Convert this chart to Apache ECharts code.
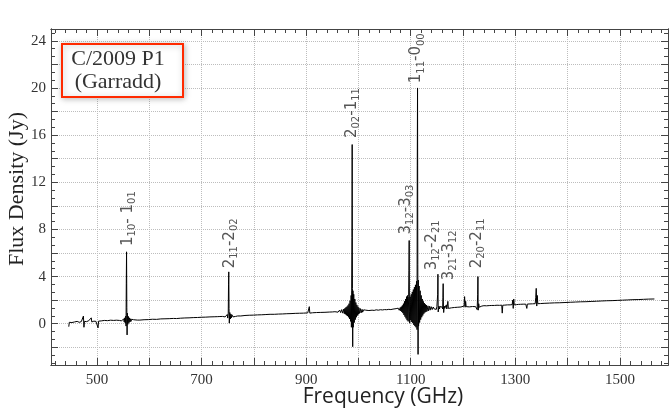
<!DOCTYPE html>
<html><head><meta charset="utf-8">
<script src="https://cdn.jsdelivr.net/npm/echarts@6/dist/echarts.min.js"></script>
<style>html,body{margin:0;padding:0;background:#fff}#c{width:670px;height:419px}</style>
</head><body><div id="c"></div>
<script>
// Spectrum samples (GHz, Jy)
const freqGHz = [
 446,447,452,457,462,466,470,473,474,475,476,480,484,487,489,490,494,498,501,502,503,508,514,520,526,532,537,
 540,543,545,547,549,550,551,552,553,554,555,555.5,556,556.5,557,557.5,558,559,560,561,562,563,564,565,566,568,570,573,577,
 582,590,598,606,614,622,630,638,646,652,653,654,660,668,676,684,692,700,708,716,724,730,735,
 740,743,745,747,748,749,750,751,751.5,752,752.5,753,754,755,756,757,758,760,762,765,769,
 775,783,791,799,807,815,823,831,839,847,855,863,871,879,887,895,903,905,906,907,912,920,928,936,944,950,
 955,958,961,964,966,968,970,972,973,974,975,976,977,978,979,980,981,982,983,984,985,986,986.5,987,987.5,988,988.5,989,989.5,990,991,992,993,994,995,996,997,998,999,1000,1001,1002,1004,1005,1007,1008,1010,1012,1014,1017,1020,
 1022,1026,1030,1034,1038,1042,1046,1050,1054,1058,1062,1066,1069,1072,1074,
 1076,1078,1080,1081,1082,1083,1084,1085,1086,1087,1088,1089,1090,1091,1092,1093,1094,1095,1096,1096.5,1097,1097.5,1098,1099,1100,1101,1102,1103,1104,1105,1106,1107,1108,1109,1110,1111,1112,1112.5,1113,1113.5,1114,1114.5,1115,1116,1117,1118,1119,1120,1121,1122,1123,1124,1125,1126,1127,1128,1129,1130,1131,1133,1134,1136,1137,1139,1141,1143,1145,1147,1149,1150,1151,1151.5,1152,1152.5,1153,1154,1155,1156,1158,1160,1161,1161.5,1162,1162.5,1163,1164,1165,1166,1167,1168,1169,
 1170,1171,1172,1175,1178,1181,1184,1187,1190,1193,1196,1199,1202,1203,1204,1205,1206,1209,1212,1215,1218,1221,1224,1226,1227,1228,1228.5,1229,1230,1231,1233,1236,1240,1245,1250,1255,1260,1265,1270,1274,1275,1276,1280,1285,1290,1294,1295,1296,1297,1298,1302,1306,1310,1315,1320,1322,1323,1328,1333,1338,1339,1340,1341,1342,1343,1348,
 1355,1365,1375,1385,1395,1405,1415,1425,1435,1445,1455,1465,1475,1485,1495,1505,1515,1525,1535,1545,1555,1566
];
const fluxJy = [
 -0.25,0.12,0.1,0.15,0.2,0.12,0.18,0.22,0.65,-0.3,0.2,0.18,0.25,0.2,0.5,0.15,0.22,0.2,0.18,-0.35,0.22,0.24,0.28,0.26,0.3,0.28,0.3,
 0.3,0.28,0.33,0.24,0.38,0.2,0.42,0.15,0.5,0.05,0.65,-0.2,3.4,6.1,1.4,-0.95,0.9,-0.05,0.62,0.08,0.5,0.15,0.42,0.2,0.38,0.25,0.34,0.28,0.31,
 0.31,0.34,0.35,0.38,0.37,0.41,0.42,0.43,0.45,0.44,0.6,0.4,0.47,0.49,0.5,0.52,0.53,0.55,0.56,0.58,0.59,0.6,0.61,
 0.62,0.68,0.58,0.72,0.54,0.78,0.48,0.9,3.3,4.4,1.3,0.05,0.95,0.4,0.82,0.5,0.76,0.58,0.7,0.62,0.66,
 0.66,0.7,0.72,0.73,0.75,0.76,0.78,0.8,0.8,0.82,0.83,0.85,0.86,0.88,0.89,0.9,0.92,0.92,1.45,0.9,0.93,0.95,0.96,0.97,0.99,1.0,
 1.02,1.12,0.98,1.16,0.94,1.2,0.9,1.25,0.85,1.3,0.8,1.38,0.72,1.45,0.65,1.55,0.55,1.7,0.4,1.95,0.2,2.4,-0.3,2.85,7.3,15.2,3.0,-1.95,2.8,-0.3,2.5,0.1,2.1,0.35,1.8,0.55,1.6,0.7,1.45,0.8,1.35,0.88,1.28,0.92,1.22,0.98,1.18,1.02,1.15,1.06,1.12,
 1.12,1.15,1.13,1.18,1.15,1.19,1.17,1.2,1.19,1.22,1.2,1.24,1.18,1.28,1.16,
 1.32,1.14,1.38,1.08,1.45,1.0,1.55,0.9,1.7,0.75,1.9,0.6,2.1,0.45,2.3,0.3,2.4,0.2,2.3,4.5,7.06,1.0,0.05,2.3,0.3,2.5,0.15,2.7,0.05,2.9,-0.1,3.1,-0.2,3.3,-0.3,3.6,-0.5,13.4,20.0,5.0,-2.6,3.7,-0.2,3.2,0.1,2.8,0.35,2.4,0.55,2.1,0.7,1.9,0.85,1.75,0.95,1.65,1.0,1.58,1.05,1.52,1.1,1.48,1.15,1.45,1.2,1.42,1.25,1.4,1.22,1.45,1.3,2.5,4.2,1.0,0.9,1.5,1.25,1.45,1.3,1.42,1.25,2.2,3.4,1.5,0.95,1.5,1.3,1.45,1.32,1.6,1.25,
 1.38,1.9,1.3,1.42,1.35,1.45,1.38,1.44,1.4,1.47,1.42,1.45,1.5,2.3,1.4,1.9,1.45,1.48,1.43,1.5,1.46,1.52,1.45,1.6,1.2,2.5,4.0,1.15,1.7,1.4,1.55,1.5,1.53,1.52,1.54,1.55,1.55,1.57,1.56,1.58,0.9,1.57,1.58,1.6,1.6,1.62,2.0,1.3,2.1,1.6,1.62,1.64,1.65,1.66,1.66,1.3,1.67,1.68,1.69,1.7,2.2,3.0,1.5,2.4,1.7,1.71,
 1.73,1.75,1.77,1.78,1.8,1.82,1.84,1.86,1.87,1.89,1.91,1.93,1.95,1.96,1.98,2.0,2.02,2.04,2.05,2.07,2.09,2.1
];
// Transition labels: name (subscripts in _{..}), frequency (GHz), flux where the label text starts (Jy)
const lineNames = ['1_{10}- 1_{01}','2_{11}-2_{02}','2_{02}-1_{11}','1_{11}-0_{00}','3_{12}-3_{03}','3_{12}-2_{21}','3_{21}-3_{12}','2_{20}-2_{11}'];
const lineFreq = [559, 754, 987, 1111, 1091, 1141, 1173, 1226];
const lineLabelY = [6.6, 4.7, 15.75, 20.4, 7.57, 4.53, 3.69, 4.7];
// Axis ticks
const xLabelTicks = [500,700,900,1100,1300,1500];
const xMajorTicks = [500,600,700,800,900,1000,1100,1200,1300,1400,1500];
const xMinorTicks = [420,440,460,480,520,540,560,580,620,640,660,680,720,740,760,780,820,840,860,880,920,940,960,980,1020,1040,1060,1080,1120,1140,1160,1180,1220,1240,1260,1280,1320,1340,1360,1380,1420,1440,1460,1480,1520,1540,1560,1580];
const yLabelTicks = [0,4,8,12,16,20,24];
const yMajorTicks = [-2,0,2,4,6,8,10,12,14,16,18,20,22,24];
const yMinorTicks = [-3.333,-2.667,-1.333,-0.667,0.667,1.333,2.667,3.333,4.667,5.333,6.667,7.333,8.667,9.333,10.667,11.333,12.667,13.333,14.667,15.333,16.667,17.333,18.667,19.333,20.667,21.333,22.667,23.333,24.667];

const X_MIN = 412, X_MAX = 1592, Y_MIN = -3.5, Y_MAX = 25;
const axisColor = '#444';
const serif = 'Liberation Serif';

function toRich(s) {
  // '2_{02}-1_{11}' -> '{n|2}{s|02}{n|-1}{s|11}'
  return s.split(/(_\{[^}]*\})/).filter(t => t.length).map(t =>
    t.startsWith('_{') ? '{s|' + t.slice(2, -1) + '}' : '{n|' + t + '}').join('');
}

function xAx(grid, pos, ticks, len, labels, split) {
  return {type:'value', gridIndex:grid, position:pos, min:X_MIN, max:X_MAX,
    axisLine:{show:true, onZero:false, lineStyle:{color:axisColor, width:1}},
    axisTick:{show:true, inside:true, length:len, customValues:ticks, lineStyle:{color:axisColor, width:1}},
    axisLabel: labels ? {show:true, customValues:labels, formatter: v => String(v), margin:8, fontFamily:serif, fontSize:15, color:'#333'} : {show:false},
    splitLine:{show:split, lineStyle:{type:'dotted', color:'#bdbdbd', width:1}}};
}
function yAx(grid, pos, ticks, len, labels, split) {
  return {type:'value', gridIndex:grid, position:pos, min:Y_MIN, max:Y_MAX,
    axisLine:{show:true, onZero:false, lineStyle:{color:axisColor, width:1}},
    axisTick:{show:true, inside:true, length:len, customValues:ticks, lineStyle:{color:axisColor, width:1}},
    axisLabel: labels ? {show:true, customValues:labels, formatter: v => String(v), margin:5, fontFamily:serif, fontSize:15, color:'#333'} : {show:false},
    splitLine:{show:split, lineStyle:{type:'dotted', color:'#bdbdbd', width:1}}};
}

const chart = echarts.init(document.getElementById('c'), null, {renderer:'canvas'});
const gridRect = {left:51, right:2, top:29, bottom:54};
chart.setOption({
  animation:false,
  grid:[Object.assign({}, gridRect), Object.assign({}, gridRect)],
  xAxis:[
    xAx(0,'bottom',xMajorTicks,7,xLabelTicks,true),
    xAx(0,'top',xMajorTicks,7,null,false),
    xAx(1,'bottom',xMinorTicks,4,null,false),
    xAx(1,'top',xMinorTicks,4,null,false)
  ],
  yAxis:[
    yAx(0,'left',yMajorTicks,7,yLabelTicks,true),
    yAx(0,'right',yMajorTicks,7,null,false),
    yAx(1,'left',yMinorTicks,4,null,false),
    yAx(1,'right',yMinorTicks,4,null,false)
  ],
  series:[
    {type:'line', xAxisIndex:0, yAxisIndex:0, showSymbol:false, symbol:'none', sampling:null,
     data: freqGHz.map((f,i)=>[f, fluxJy[i]]),
     lineStyle:{color:'#000', width:1}, z:3},
    {type:'scatter', xAxisIndex:0, yAxisIndex:0, symbolSize:1, itemStyle:{color:'rgba(0,0,0,0)'}, z:4,
     data: lineFreq.map((f,i)=>({name:lineNames[i], value:[f, lineLabelY[i]]})),
     label:{show:true, position:'inside', rotate:90, align:'left', verticalAlign:'middle',
       formatter: p => toRich(p.name), fontFamily:'DejaVu Sans', color:'#2a2a2a',
       rich:{
         n:{fontFamily:'DejaVu Sans', fontSize:15, lineHeight:19, verticalAlign:'middle', color:'#2a2a2a'},
         s:{fontFamily:'DejaVu Sans', fontSize:10, lineHeight:10, verticalAlign:'bottom', color:'#2a2a2a'}
       }}}
  ],
  graphic:[
    {type:'rect', shape:{x:62, y:44, width:121, height:53}, z:10,
     style:{fill:'#fff', stroke:'#ff2a00', lineWidth:2, shadowBlur:6, shadowColor:'rgba(0,0,0,0.25)', shadowOffsetX:1, shadowOffsetY:1}},
    {type:'text', x:118, y:59, z:11, style:{text:'C/2009 P1', font:'22px "Liberation Serif"', fill:'#333', align:'center', verticalAlign:'middle'}},
    {type:'text', x:118, y:82, z:11, style:{text:'(Garradd)', font:'22px "Liberation Serif"', fill:'#333', align:'center', verticalAlign:'middle'}},
    {type:'text', x:17, y:189, rotation:Math.PI/2, z:11, style:{text:'Flux Density (Jy)', font:'22px "Liberation Serif"', fill:'#222', align:'center', verticalAlign:'middle'}},
    {type:'text', x:383, y:397, z:11, style:{text:'Frequency (GHz)', font:'21px "Open Sans"', fill:'#222', align:'center', verticalAlign:'middle'}}
  ]
});
</script></body></html>
